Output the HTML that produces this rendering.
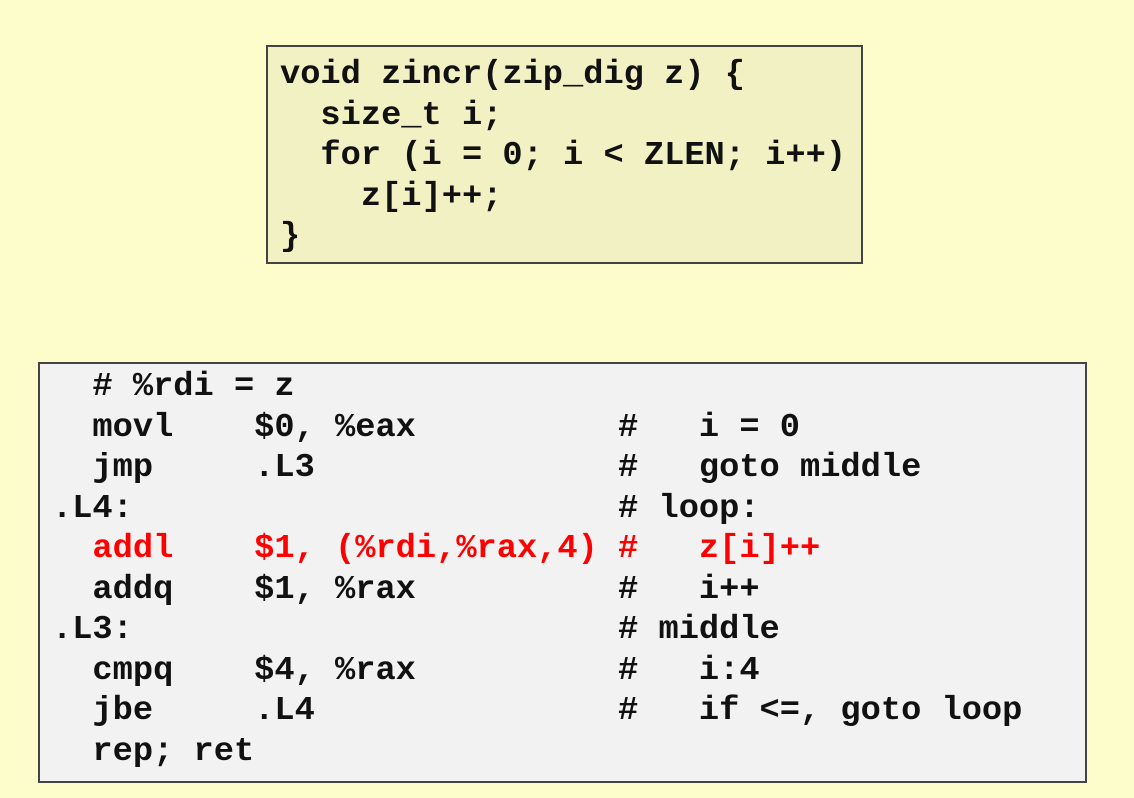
<!DOCTYPE html>
<html><head><style>
body{margin:0;width:1134px;height:798px;background:#fdfdcc;position:relative;overflow:hidden}
pre{margin:0;font-family:"Liberation Mono","Courier New",monospace;font-weight:bold;font-size:33.7px;line-height:40.5px;color:#111;position:absolute}
.box{position:absolute;border:2px solid #444;box-sizing:border-box}
.r{color:#ff0000}
</style></head><body>
<div class="box" style="left:266px;top:45px;width:597px;height:219px;background:#f1f1c3"></div>
<pre style="left:280px;top:55px">void zincr(zip_dig z) {
  size_t i;
  for (i = 0; i &lt; ZLEN; i++)
    z[i]++;
}</pre>
<div class="box" style="left:38px;top:362px;width:1049px;height:421px;background:#f2f2f2"></div>
<pre style="left:52px;top:367px">  # %rdi = z
  movl    $0, %eax          #   i = 0
  jmp     .L3               #   goto middle
.L4:                        # loop:
<span class="r">  addl    $1, (%rdi,%rax,4) #   z[i]++</span>
  addq    $1, %rax          #   i++
.L3:                        # middle
  cmpq    $4, %rax          #   i:4
  jbe     .L4               #   if &lt;=, goto loop
  rep; ret</pre>
</body></html>
